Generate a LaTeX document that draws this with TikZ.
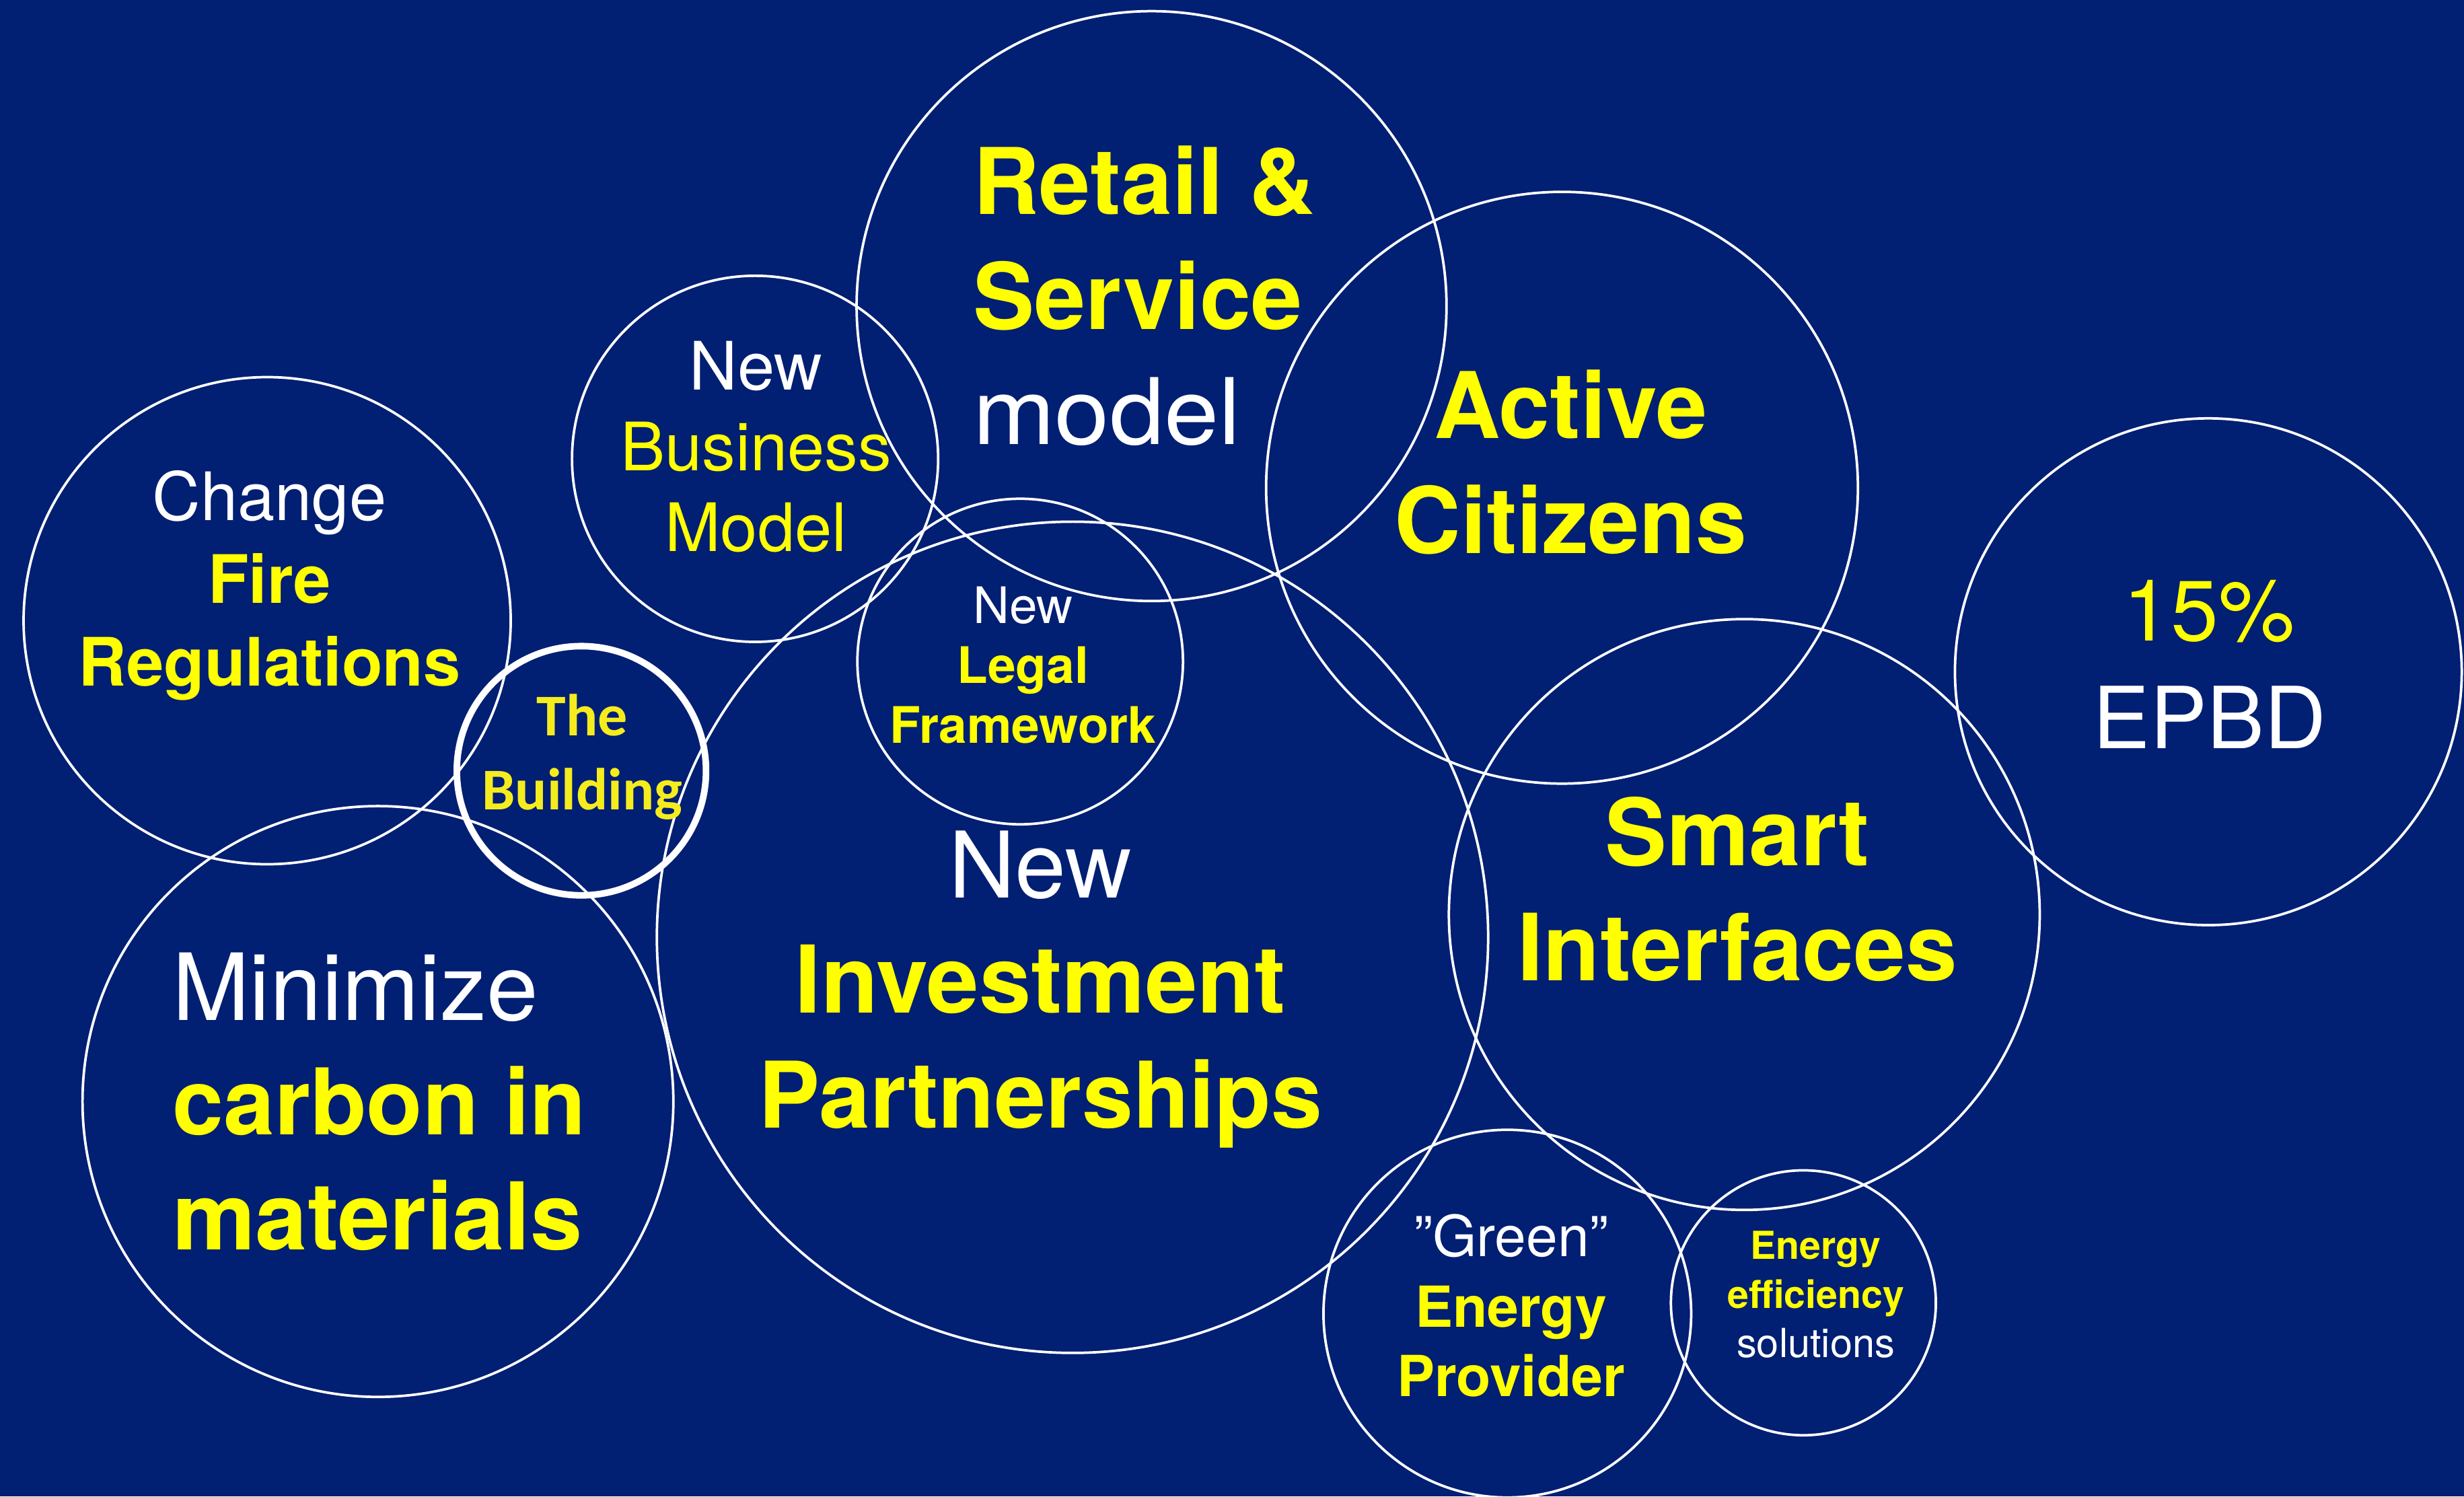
\documentclass[tikz,border=0pt]{standalone}
\usepackage{fontspec}
\setmainfont{TeX Gyre Heros}
\newfontfamily\carl{Carlito}
\newfontfamily\herowide[FakeStretch=1.07]{TeX Gyre Heros}
\definecolor{navy}{RGB}{1,31,115}
\definecolor{hy}{RGB}{255,255,0}
\definecolor{by}{RGB}{245,236,30}
\newcommand\fsz[1]{\fontsize{#1pt}{#1pt}\selectfont}
\begin{document}
\begin{tikzpicture}[x=1pt,y=-1pt,
  bubble/.style={circle,draw=white,line width=1.6pt,inner sep=0pt,outer sep=0pt,minimum size=#1},
  tc/.style={inner sep=0pt,anchor=base},
  tl/.style={inner sep=0pt,anchor=base west},
  yl/.style={text=hy},
  wt/.style={text=white},
  rg/.style={font=\fsz{#1}},
  bd/.style={font=\fsz{#1}\bfseries}]
\fill[navy] (0,0) rectangle (1568,952.3);
\useasboundingbox (0,0) rectangle (1568,952.3);
% circles
\node[bubble=375.4] (retail) at (732.8,194.8) {};
\node[bubble=376.6] (active) at (994,310.4) {};
\node[bubble=233] (business) at (480.5,292) {};
\node[bubble=310] (fire) at (170,395) {};
\node[bubble=158.6,line width=4.2pt] (building) at (370,490.5) {};
\node[bubble=207.2] (legal) at (649.2,421) {};
\node[bubble=529] (invest) at (682.5,596.5) {};
\node[bubble=376] (carbon) at (240.5,701) {};
\node[bubble=376] (smart) at (1110,582) {};
\node[bubble=322.5] (epbd) at (1405.3,427.5) {};
\node[bubble=234] (green) at (959.2,836) {};
\node[bubble=168.6] (effic) at (1147.6,829.1) {};
% Retail & Service model
\node[tl,yl,bd=58.5] (r1) at (619,136.4) {Retail \&};
\node[tl,yl,bd=58.5] (r2) at (619,209.4) {Service};
\node[tl,wt,font=\fsz{58.5}\herowide] (r3) at (619,282.7) {model};
% Active Citizens
\node[tc,yl,bd=58.5] (a1) at (999.5,279) {Active};
\node[tc,yl,bd=58.5] (a2) at (999.5,352.1) {Citizens};
% New Business Model
\node[tc,wt,rg=42.5] (b1) at (481,248.3) {New};
\node[tc,yl,rg=42.5] (b2) at (481,299.7) {Business};
\node[tc,yl,rg=42.5] (b3) at (481,351.1) {Model};
% Change Fire Regulations
\node[tc,wt,rg=42.5] (f1) at (171.5,331.4) {Change};
\node[tc,yl,bd=42.5] (f2) at (171.5,384) {Fire};
\node[tc,yl,bd=42.5] (f3) at (171.5,436.4) {Regulations};
% The Building
\node[tc,text=by,font=\fsz{37.7}\carl\bfseries] (t1) at (370.5,468) {The};
\node[tc,text=by,font=\fsz{37.7}\carl\bfseries] (t2) at (370.5,515.5) {Building};
% New Legal Framework
\node[tc,wt,rg=32] (l1) at (651,396.8) {New};
\node[tc,yl,bd=32] (l2) at (651,434.6) {Legal};
\node[tc,yl,bd=32] (l3) at (651,473) {Framework};
% New Investment Partnerships
\node[tc,wt,rg=58.5] (i1) at (662,571.6) {New};
\node[tc,yl,bd=59.5] (i2) at (662,644.5) {Investment};
\node[tc,yl,bd=58.5] (i3) at (662,717.8) {Partnerships};
% Minimize carbon in materials
\node[tl,wt,rg=59] (m1) at (109.5,649.3) {Minimize};
\node[tl,yl,bd=58.5] (m2) at (109.5,722.3) {carbon in};
\node[tl,yl,bd=59.5] (m3) at (109.5,795.4) {materials};
% Smart Interfaces
\node[tc,yl,bd=59] (s1) at (1105.6,551) {Smart};
\node[tc,yl,bd=59] (s2) at (1105.6,624.2) {Interfaces};
% 15% EPBD
\node[tc,yl,rg=54.5] (e1) at (1405.7,408) {15\%};
\node[tc,wt,rg=54.5] (e2) at (1406,476.5) {EPBD};
% Green Energy Provider
\node[tc,wt,rg=36] (g1) at (961.5,799.8) {”Green”};
\node[tc,yl,bd=36] (g2) at (961.5,844.5) {Energy};
\node[tc,yl,bd=36] (g3) at (961.5,888.8) {Provider};
% Energy efficiency solutions
\node[tc,yl,bd=24.5] (x1) at (1155.5,801.5) {Energy};
\node[tc,yl,bd=24.5] (x2) at (1155.5,832.5) {efficiency};
\node[tc,wt,rg=25.5] (x3) at (1155.5,863.9) {solutions};
\end{tikzpicture}
\end{document}
